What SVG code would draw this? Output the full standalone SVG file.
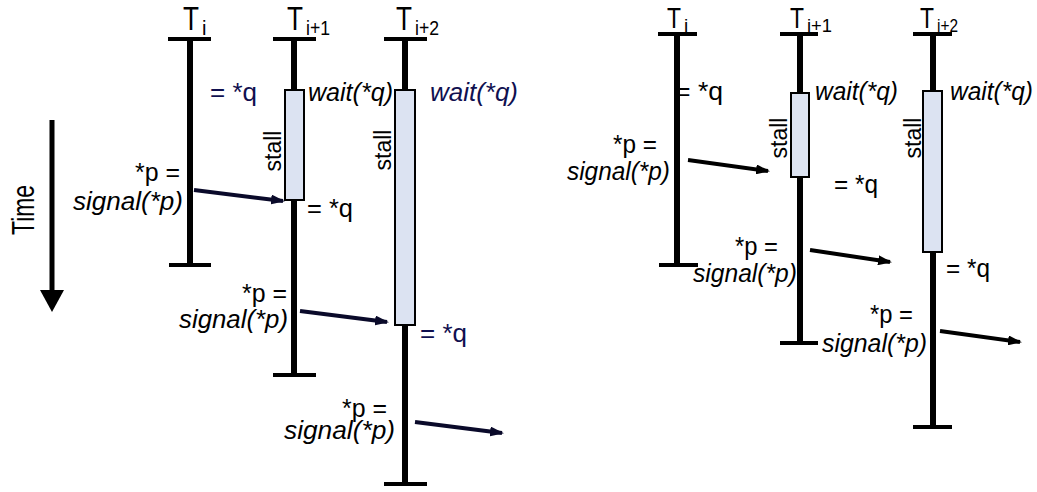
<svg xmlns="http://www.w3.org/2000/svg" width="1037" height="492" viewBox="0 0 1037 492">
<defs>
<style>
.life{stroke:#000;stroke-width:6;fill:none}
.bar{stroke:#000;stroke-width:4;fill:none}
.box{fill:#dce3f2;stroke:#000;stroke-width:2}
.arr{stroke:#0a0a2a;stroke-width:4;fill:none;marker-end:url(#ah)}
.arrR{stroke:#000;stroke-width:4;fill:none;marker-end:url(#ahR)}
text{font-family:"Liberation Sans",Arial,sans-serif;fill:#000}
.l{font-size:26px}
.r{font-size:25px}
.it{font-style:italic}
.navy{fill:#101050}
.st{font-size:23px}
.tl{font-size:34px}
.tr{font-size:30px}
.sl{font-size:20px}
.sr{font-size:19px}
</style>
<marker id="ah" viewBox="0 0 14 10" refX="12" refY="5" markerWidth="14" markerHeight="10" markerUnits="userSpaceOnUse" orient="auto"><path d="M0,0 L14,5 L0,10 Z" fill="#0a0a2a"/></marker>
<marker id="ahR" viewBox="0 0 14 10" refX="12" refY="5" markerWidth="14" markerHeight="10" markerUnits="userSpaceOnUse" orient="auto"><path d="M0,0 L14,5 L0,10 Z" fill="#000"/></marker>
</defs>
<rect width="1037" height="492" fill="#fff"/>

<g id="time">
<line x1="52" y1="120" x2="52" y2="292" stroke="#000" stroke-width="5"/>
<path d="M40,290 L64,290 L52,312 Z" fill="#000"/>
<text transform="translate(34,210) rotate(-90)" text-anchor="middle" font-size="31" textLength="50" lengthAdjust="spacingAndGlyphs">Time</text>
</g>

<!-- Left diagram -->
<g id="L_Ti">
<line class="life" x1="190" y1="39" x2="190" y2="265"/>
<line class="bar" x1="168" y1="39" x2="211" y2="39"/>
<line class="bar" x1="169" y1="265" x2="211" y2="265"/>
<text class="tl" x="183" y="30" textLength="16" lengthAdjust="spacingAndGlyphs">T</text>
<text class="sl" x="202" y="35">i</text>
<text class="l navy" x="210" y="101" textLength="47" lengthAdjust="spacingAndGlyphs">= *q</text>
<text class="l" x="135" y="181" textLength="45" lengthAdjust="spacingAndGlyphs">*p =</text>
<text class="l it" x="73" y="210" textLength="110" lengthAdjust="spacingAndGlyphs">signal(*p)</text>
</g>

<g id="L_Ti1">
<line class="life" x1="294" y1="39" x2="294" y2="375"/>
<line class="bar" x1="273" y1="39" x2="316" y2="39"/>
<line class="bar" x1="273" y1="375" x2="316" y2="375"/>
<rect class="box" x="285" y="90" width="19" height="110"/>
<text class="tl" x="287" y="30" textLength="16" lengthAdjust="spacingAndGlyphs">T</text>
<text class="sl" x="306" y="35" textLength="24" lengthAdjust="spacingAndGlyphs">i+1</text>
<text class="l it" x="308" y="101" textLength="85" lengthAdjust="spacingAndGlyphs">wait(*q)</text>
<text class="st" transform="translate(281,151) rotate(-90)" text-anchor="middle">stall</text>
<text class="l" x="307" y="217" textLength="46" lengthAdjust="spacingAndGlyphs">= *q</text>
<text class="l" x="242" y="302" textLength="45" lengthAdjust="spacingAndGlyphs">*p =</text>
<text class="l it" x="179" y="328" textLength="109" lengthAdjust="spacingAndGlyphs">signal(*p)</text>
</g>

<g id="L_Ti2">
<line class="life" x1="405" y1="39" x2="405" y2="484"/>
<line class="bar" x1="384" y1="39" x2="427" y2="39"/>
<line class="bar" x1="384" y1="484" x2="427" y2="484"/>
<rect class="box" x="395" y="90" width="20" height="235"/>
<text class="tl" x="396" y="30" textLength="16" lengthAdjust="spacingAndGlyphs">T</text>
<text class="sl" x="415" y="35" textLength="24" lengthAdjust="spacingAndGlyphs">i+2</text>
<text class="l it navy" x="430" y="101" textLength="88" lengthAdjust="spacingAndGlyphs">wait(*q)</text>
<text class="st" transform="translate(391,150) rotate(-90)" text-anchor="middle">stall</text>
<text class="l navy" x="420" y="342" textLength="47" lengthAdjust="spacingAndGlyphs">= *q</text>
<text class="l" x="342" y="417" textLength="45" lengthAdjust="spacingAndGlyphs">*p =</text>
<text class="l it" x="284" y="439" textLength="111" lengthAdjust="spacingAndGlyphs">signal(*p)</text>
</g>

<!-- Right diagram -->
<g id="R_Ti">
<line class="life" x1="677" y1="34" x2="677" y2="265"/>
<line class="bar" x1="658" y1="34" x2="697" y2="34"/>
<line class="bar" x1="659" y1="265" x2="698" y2="265"/>
<text class="tr" x="667" y="28" textLength="14" lengthAdjust="spacingAndGlyphs">T</text>
<text class="sr" x="684" y="32">i</text>
<text class="r" x="675" y="100" textLength="48" lengthAdjust="spacingAndGlyphs">= *q</text>
<text class="r" x="613" y="153" textLength="44" lengthAdjust="spacingAndGlyphs">*p =</text>
<text class="r it" x="567" y="180" textLength="103" lengthAdjust="spacingAndGlyphs">signal(*p)</text>
</g>

<g id="R_Ti1">
<line class="life" x1="800" y1="34" x2="800" y2="343"/>
<line class="bar" x1="780" y1="34" x2="818" y2="34"/>
<line class="bar" x1="780" y1="343" x2="818" y2="343"/>
<rect class="box" x="791" y="93" width="18" height="84"/>
<text class="tr" x="790" y="28" textLength="14" lengthAdjust="spacingAndGlyphs">T</text>
<text class="sr" x="807" y="32" textLength="25" lengthAdjust="spacingAndGlyphs">i+1</text>
<text class="r it" x="815" y="100" textLength="83" lengthAdjust="spacingAndGlyphs">wait(*q)</text>
<text class="st" transform="translate(787,138) rotate(-90)" text-anchor="middle">stall</text>
<text class="r" x="834" y="193" textLength="44" lengthAdjust="spacingAndGlyphs">= *q</text>
<text class="r" x="735" y="255" textLength="43" lengthAdjust="spacingAndGlyphs">*p =</text>
<text class="r it" x="693" y="282" textLength="104" lengthAdjust="spacingAndGlyphs">signal(*p)</text>
</g>

<g id="R_Ti2">
<line class="life" x1="933" y1="34" x2="933" y2="427"/>
<line class="bar" x1="913" y1="34" x2="952" y2="34"/>
<line class="bar" x1="913" y1="427" x2="952" y2="427"/>
<rect class="box" x="923" y="91" width="19" height="161"/>
<text class="tr" x="920" y="28" textLength="14" lengthAdjust="spacingAndGlyphs">T</text>
<text class="sr" x="937" y="32" textLength="21" lengthAdjust="spacingAndGlyphs">i+2</text>
<text class="r it" x="950" y="100" textLength="83" lengthAdjust="spacingAndGlyphs">wait(*q)</text>
<text class="st" transform="translate(921,138) rotate(-90)" text-anchor="middle">stall</text>
<text class="r" x="946" y="277" textLength="44" lengthAdjust="spacingAndGlyphs">= *q</text>
<text class="r" x="870" y="323" textLength="43" lengthAdjust="spacingAndGlyphs">*p =</text>
<text class="r it" x="822" y="352" textLength="105" lengthAdjust="spacingAndGlyphs">signal(*p)</text>
</g>

<g id="connectors">
<line class="arr" x1="194" y1="190" x2="283" y2="201"/>
<line class="arr" x1="300" y1="311" x2="387" y2="322"/>
<line class="arr" x1="415" y1="422" x2="502" y2="433"/>
<line class="arrR" x1="688" y1="160" x2="768" y2="171"/>
<line class="arrR" x1="810" y1="250" x2="890" y2="262"/>
<line class="arrR" x1="940" y1="331" x2="1020" y2="342"/>
</g>
</svg>
